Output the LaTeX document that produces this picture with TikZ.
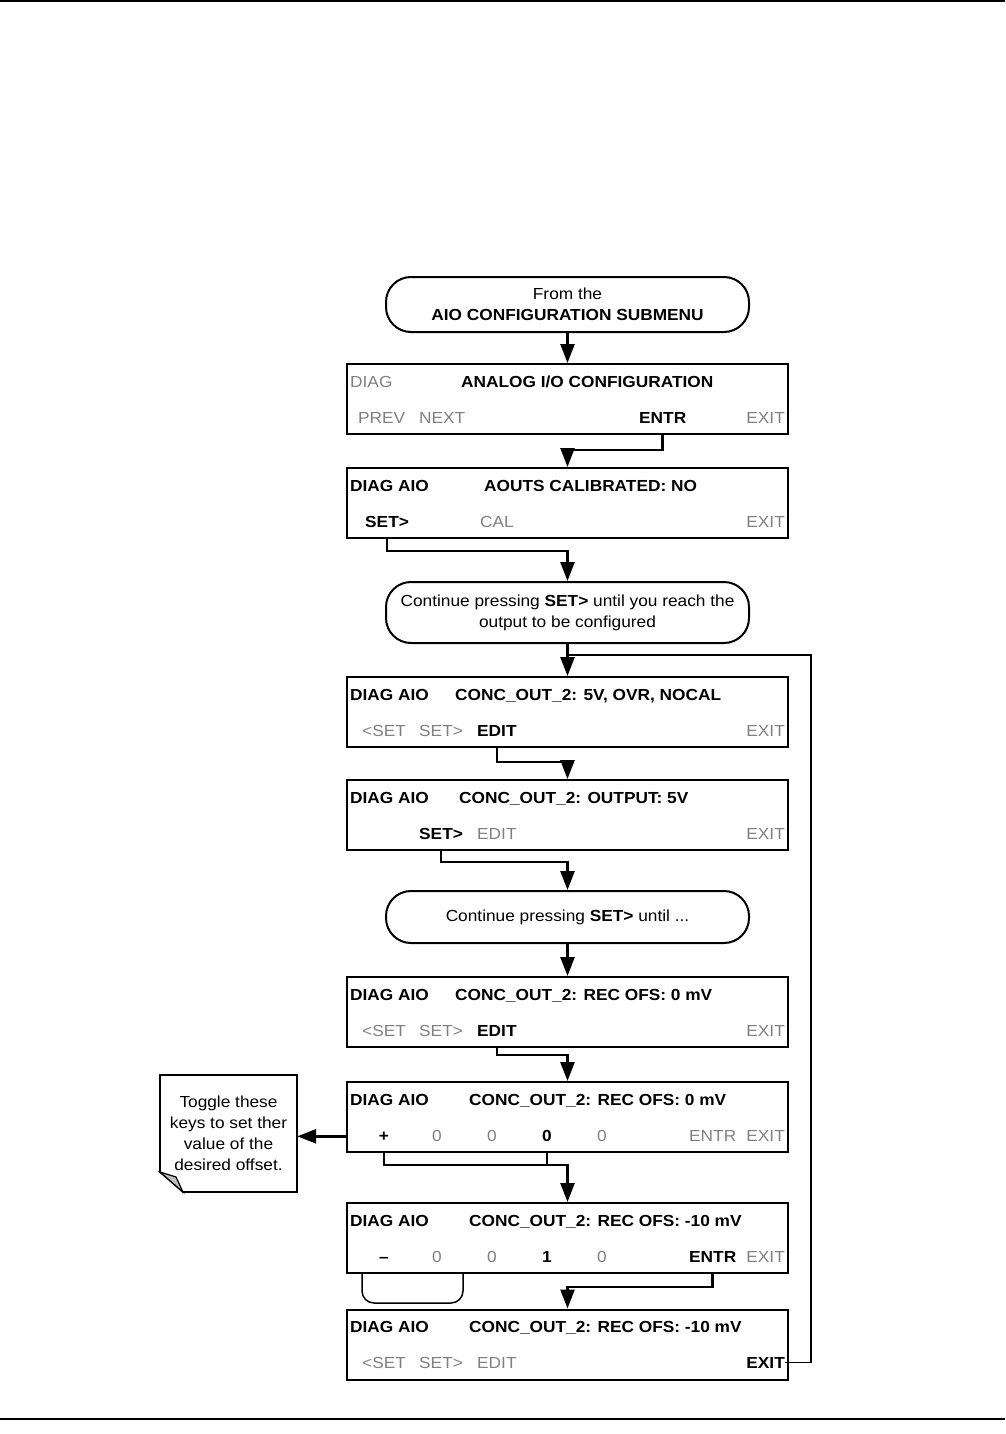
\documentclass[tikz,border=0pt]{standalone}
\usepackage{fontspec}
\setmainfont{Liberation Sans}[FakeStretch=1.08]
\usetikzlibrary{arrows.meta}
\newcommand\fsz{\fontsize{16}{21}\selectfont}
\begin{document}
\begin{tikzpicture}[x=1pt,y=-1pt,
  scr/.style={draw,line width=2pt,minimum width=441pt,minimum height=70pt,inner sep=0pt},
  term/.style={draw,line width=2pt,rounded corners=25pt,minimum width=363pt,align=center,inner sep=0pt,font=\fsz},
  tx/.style={inner sep=0pt,font=\fsz},
  bt/.style={tx,font=\fsz\bfseries},
  gt/.style={tx,text=black!50},
  wire/.style={line width=2.6pt},
  conn/.style={wire,-{Triangle[length=19pt,width=14pt]}},
  loopline/.style={line width=1.8pt}]
\useasboundingbox (0,0) rectangle (1005,1434);
\draw[line width=2pt] (0,1) -- (1005,1);
\draw[line width=1.6pt] (0,1419) -- (1005,1419);

% terminals
\node[term,minimum height=55pt] (t1) at (567.5,304.5) {From the\\\textbf{AIO CONFIGURATION SUBMENU}};
\node[term,minimum height=61pt] (t2) at (567.5,612.5) {Continue pressing \textbf{SET>} until you reach the\\output to be configured};
\node[term,minimum height=52pt] (t3) at (567.5,917) {Continue pressing \textbf{SET>} until ...};

% screens
\node[scr] (b1) at (567.5,399) {};
\node[scr] (b2) at (567.5,503) {};
\node[scr] (b3) at (567.5,712) {};
\node[scr] (b4) at (567.5,815) {};
\node[scr] (b5) at (567.5,1012) {};
\node[scr] (b6) at (567.5,1117) {};
\node[scr] (b7) at (567.5,1238) {};
\node[scr] (b8) at (567.5,1344.5) {};

% b1
\node[gt,anchor=base west] (b1l) at (350,387) {DIAG};
\node[bt,anchor=base west] (b1t) at (461,387) {ANALOG I/O CONFIGURATION};
\node[gt,anchor=base west] (b1p) at (358,423) {PREV};
\node[gt,anchor=base west] (b1n) at (419,423) {NEXT};
\node[bt,anchor=base west] (b1e) at (639,423) {ENTR};
\node[gt,anchor=base east] (b1x) at (785,423) {EXIT};
% b2
\node[bt,anchor=base west] (b2l) at (350,491) {DIAG AIO};
\node[bt,anchor=base west] (b2t) at (484,491) {AOUTS CALIBRATED: NO};
\node[bt,anchor=base west] (b2s) at (365,527) {SET>};
\node[gt,anchor=base west] (b2c) at (480,527) {CAL};
\node[gt,anchor=base east] (b2x) at (785,527) {EXIT};
% b3
\node[bt,anchor=base west] (b3l) at (350,700) {DIAG AIO};
\node[bt,anchor=base west] (b3t) at (455,700) {CONC\_OUT\_2: 5V, OVR, NOCAL};
\node[gt,anchor=base west] (b3a) at (362,736) {<SET};
\node[gt,anchor=base west] (b3b) at (419,736) {SET>};
\node[bt,anchor=base west] (b3e) at (477,736) {EDIT};
\node[gt,anchor=base east] (b3x) at (785,736) {EXIT};
% b4
\node[bt,anchor=base west] (b4l) at (350,803) {DIAG AIO};
\node[bt,anchor=base west] (b4t) at (459,803) {CONC\_OUT\_2: OUTPUT: 5V};
\node[bt,anchor=base west] (b4s) at (419,839) {SET>};
\node[gt,anchor=base west] (b4e) at (477,839) {EDIT};
\node[gt,anchor=base east] (b4x) at (785,839) {EXIT};
% b5
\node[bt,anchor=base west] (b5l) at (350,1000) {DIAG AIO};
\node[bt,anchor=base west] (b5t) at (455,1000) {CONC\_OUT\_2: REC OFS: 0 mV};
\node[gt,anchor=base west] (b5a) at (362,1036) {<SET};
\node[gt,anchor=base west] (b5b) at (419,1036) {SET>};
\node[bt,anchor=base west] (b5e) at (477,1036) {EDIT};
\node[gt,anchor=base east] (b5x) at (785,1036) {EXIT};
% b6
\node[bt,anchor=base west] (b6l) at (350,1105) {DIAG AIO};
\node[bt,anchor=base west] (b6t) at (469,1105) {CONC\_OUT\_2: REC OFS: 0 mV};
\node[bt,anchor=base] (b6p) at (384,1141) {+};
\node[gt,anchor=base] (b6d1) at (437,1141) {0};
\node[gt,anchor=base] (b6d2) at (492,1141) {0};
\node[bt,anchor=base] (b6z) at (547,1141) {0};
\node[gt,anchor=base] (b6d4) at (602,1141) {0};
\node[gt,anchor=base west] (b6e) at (689,1141) {ENTR};
\node[gt,anchor=base east] (b6x) at (785,1141) {EXIT};
% b7
\node[bt,anchor=base west] (b7l) at (350,1226) {DIAG AIO};
\node[bt,anchor=base west] (b7t) at (469,1226) {CONC\_OUT\_2: REC OFS: -10 mV};
\node[bt,anchor=base] (b7m) at (384,1262) {\textendash};
\node[gt,anchor=base] (b7d1) at (437,1262) {0};
\node[gt,anchor=base] (b7d2) at (492,1262) {0};
\node[bt,anchor=base] (b7d3) at (547,1262) {1};
\node[gt,anchor=base] (b7d4) at (602,1262) {0};
\node[bt,anchor=base west] (b7e) at (689,1262) {ENTR};
\node[gt,anchor=base east] (b7x) at (785,1262) {EXIT};
% b8
\node[bt,anchor=base west] (b8l) at (350,1332) {DIAG AIO};
\node[bt,anchor=base west] (b8t) at (469,1332) {CONC\_OUT\_2: REC OFS: -10 mV};
\node[gt,anchor=base west] (b8a) at (362,1368) {<SET};
\node[gt,anchor=base west] (b8b) at (419,1368) {SET>};
\node[gt,anchor=base west] (b8e) at (477,1368) {EDIT};
\node[bt,anchor=base east] (b8x) at (785,1368) {EXIT};

% note
\draw[line width=1.6pt,fill=white] (160,1075) -- (297,1075) -- (297,1192) -- (183,1192) -- (160,1172) -- cycle;
\draw[line width=1.2pt,fill=black!25] (160,1172) -- (176,1177) -- (183,1192) -- cycle;
\node[tx,align=center,minimum width=137pt,minimum height=117pt] (note) at (228.5,1133.5)
  {Toggle these\\keys to set ther\\value of the\\desired offset.};

% connectors
\draw[conn] (t1.south) -- (b1.north);
\draw[conn] (b1e |- b1.south) -- (b1e |- 0,450) -| (b2.north);
\draw[conn] (b2s |- b2.south) -- (b2s |- 0,551) -| (t2.north);
\draw[conn] (t2.south) -- (b3.north);
\draw[conn] (b3e |- b3.south) -- (b3e |- 0,762) -| (b4.north);
\draw[conn] (b4s |- b4.south) -- (b4s |- 0,862) -| (t3.north);
\draw[conn] (t3.south) -- (b5.north);
\draw[conn] (b5e |- b5.south) -- (b5e |- 0,1055) -| (b6.north);
\draw[conn] (b6.west |- b6p.center) -- (note.east |- b6p.center);
\draw[wire] (b6z |- b6.south) -- (b6z |- 0,1165);
\draw[conn] (b6p |- b6.south) -- (b6p |- 0,1165) -| (b7.north);
\draw[conn] (b7e |- b7.south) -- (b7e |- 0,1287) -| (b8.north);
\coordinate (lp1) at (811,655);
\draw[loopline] (t2.south |- lp1) -- (lp1) -- (lp1 |- b8x.east) -- (b8x.east);
\draw[line width=1.5pt,rounded corners=12pt] (362,1273) -- (362,1303) -- (463,1303) -- (463,1273);
\end{tikzpicture}
\end{document}
